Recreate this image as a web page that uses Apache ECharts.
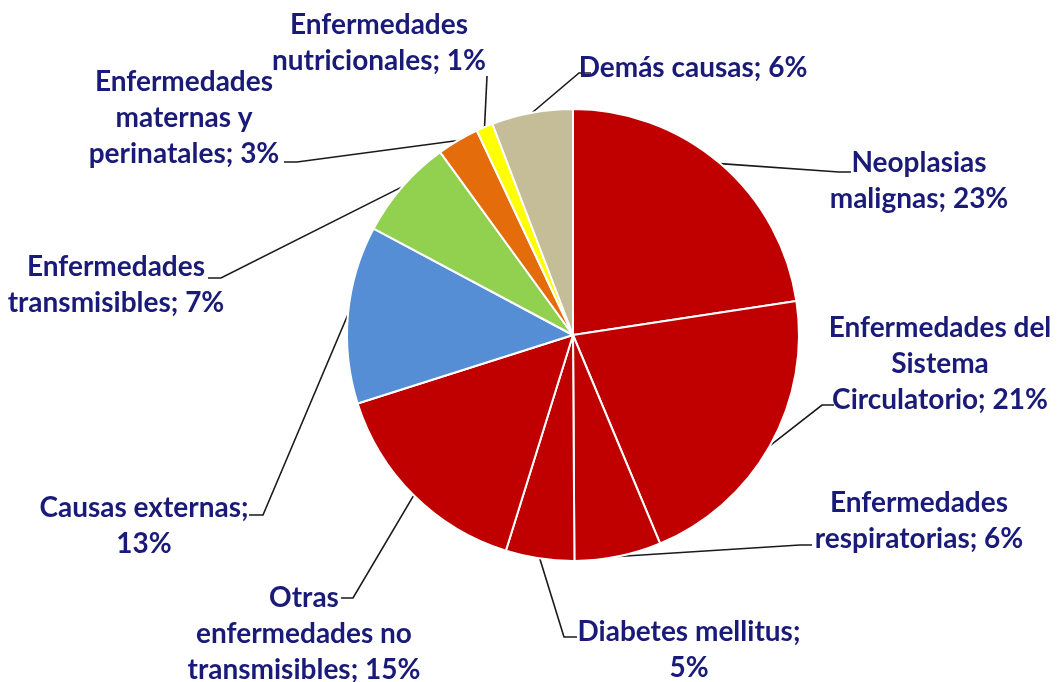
<!DOCTYPE html>
<html>
<head>
<meta charset="utf-8">
<script src="https://cdn.jsdelivr.net/npm/echarts@6/dist/echarts.min.js"></script>
<style>
html,body{margin:0;padding:0;background:#ffffff;}
#c{width:1057px;height:682px;}
</style>
</head>
<body>
<div id="c"></div>
<script>
// ---- data ----
const categories = [
  'Neoplasias\nmalignas',
  'Enfermedades del\nSistema\nCirculatorio',
  'Enfermedades\nrespiratorias',
  'Diabetes mellitus',
  'Otras\nenfermedades no\ntransmisibles',
  'Causas externas',
  'Enfermedades\ntransmisibles',
  'Enfermedades\nmaternas y\nperinatales',
  'Enfermedades\nnutricionales',
  'Demás causas'
];
const values = [22.6, 21.1, 6.2, 4.9, 15.3, 12.7, 7.2, 3.0, 1.2, 5.8];
const separators = ['; ', '; ', '; ', ';\n', '; ', ';\n', '; ', '; ', '; ', '; '];
const colors = ['#C00000', '#C00000', '#C00000', '#C00000', '#C00000',
                '#558ED5', '#92D050', '#E46C0A', '#FFFF00', '#C4BD97'];

// ---- label layout (annotation placement, not data) ----
const labelCenters = [[919,181],[940,364],[919,521],[689,650],[304,634],[144,526],[116,285],[184,118],[379,43],[693,68]];
const leaderEnds = [[851,172,-12],[834,405,-12],[812,545,-12],[577,637,-13],[341,598,12],[249,515,14],[208,278,13],[284,162,13],[487,76,0],[591,73,-12]];

const chart = echarts.init(document.getElementById('c'), null, {renderer: 'canvas'});
chart.setOption({
  animation: false,
  backgroundColor: '#ffffff',
  series: [{
    type: 'pie',
    center: [573, 335],
    radius: 226,
    startAngle: 90,
    clockwise: true,
    avoidLabelOverlap: false,
    emphasis: {disabled: true},
    itemStyle: {borderColor: '#ffffff', borderWidth: 2},
    data: values.map((v, i) => ({value: v, name: categories[i], itemStyle: {color: colors[i]}})),
    label: {
      show: true,
      position: 'outside',
      formatter: p => p.name + separators[p.dataIndex] + Math.round(p.percent) + '%',
      fontFamily: 'Lato',
      fontWeight: 'bold',
      fontSize: 28,
      lineHeight: 36,
      color: '#1A1A78'
    },
    labelLine: {
      show: true,
      lineStyle: {color: '#1a1a1a', width: 1.6}
    },
    labelLayout: function (params) {
      const i = params.dataIndex;
      const c = labelCenters[i];
      const e = leaderEnds[i];
      const anchor = params.labelLinePoints ? params.labelLinePoints[0] : [e[0], e[1]];
      return {
        x: c[0],
        y: c[1],
        align: 'center',
        verticalAlign: 'middle',
        labelLinePoints: [anchor, [e[0] + e[2], e[1]], [e[0], e[1]]]
      };
    }
  }]
});
</script>
</body>
</html>
